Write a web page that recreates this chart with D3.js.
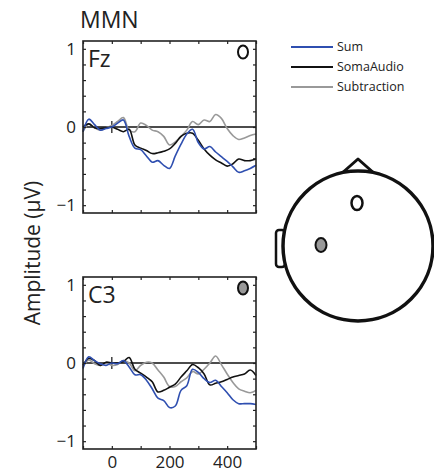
<!DOCTYPE html>
<html>
<head>
<meta charset="utf-8">
<script src="https://cdn.jsdelivr.net/npm/d3@7"></script>
<style>
  body { margin: 0; background: #fff; }
  svg { display: block; font-family: "Open Sans", "Noto Sans", sans-serif; }
</style>
</head>
<body>
<svg width="434" height="473"></svg>
<script>
// time axis (ms)
var times = [-100, -80, -60, -40, -20, 0, 20, 40, 60, 80, 100, 120, 140, 160, 180, 200,
             220, 240, 260, 280, 300, 320, 340, 360, 380, 400, 420, 440, 460, 480, 500];

// Fz amplitudes (uV)
var fzSum = [-0.06, 0.10, 0.03, -0.04, -0.02, 0.00, 0.05, 0.09, -0.12, -0.27, -0.29, -0.37, -0.45, -0.43, -0.49, -0.53,
             -0.37, -0.22, -0.09, -0.03, -0.20, -0.28, -0.25, -0.32, -0.38, -0.44, -0.51, -0.58, -0.56, -0.53, -0.49];
var fzSomaAudio = [0.00, 0.04, -0.01, -0.02, -0.01, 0.00, -0.03, -0.06, -0.03, -0.23, -0.27, -0.30, -0.34, -0.33, -0.31, -0.28,
             -0.21, -0.12, -0.08, -0.08, -0.17, -0.28, -0.36, -0.42, -0.46, -0.50, -0.47, -0.41, -0.43, -0.43, -0.41];
var fzSubtraction = [-0.06, 0.04, -0.01, -0.04, -0.01, 0.02, 0.07, 0.12, -0.04, -0.06, 0.05, 0.02, -0.04, -0.06, -0.12, -0.23,
             -0.19, -0.12, -0.04, 0.07, 0.03, 0.09, 0.07, 0.16, 0.11, -0.02, -0.11, -0.16, -0.14, -0.11, -0.09];

// C3 amplitudes (uV)
var c3Sum = [-0.07, 0.08, 0.03, -0.01, -0.03, 0.00, -0.01, 0.03, -0.05, -0.15, -0.15, -0.22, -0.33, -0.45, -0.48, -0.57,
             -0.55, -0.35, -0.29, -0.08, -0.12, -0.20, -0.25, -0.22, -0.30, -0.38, -0.47, -0.52, -0.52, -0.52, -0.53];
var c3SomaAudio = [-0.03, 0.06, 0.03, -0.03, 0.01, 0.00, 0.00, 0.02, 0.07, -0.08, -0.13, -0.18, -0.24, -0.37, -0.35, -0.31,
             -0.27, -0.18, -0.10, -0.02, -0.06, -0.14, -0.28, -0.26, -0.24, -0.21, -0.18, -0.16, -0.14, -0.09, -0.16];
var c3Subtraction = [-0.05, 0.04, -0.01, -0.03, 0.00, -0.03, -0.02, 0.03, 0.00, -0.10, -0.03, 0.01, 0.00, -0.09, -0.18, -0.30,
             -0.30, -0.24, -0.19, -0.11, -0.14, -0.08, 0.00, 0.09, -0.02, -0.14, -0.25, -0.33, -0.36, -0.38, -0.35];

var seriesNames = ["Sum", "SomaAudio", "Subtraction"];
var seriesColors = ["#2f4fb0", "#111111", "#999999"];
var xTickLabels = [0, 200, 400];
var yTickLabels = [-1, 0, 1];

var svg = d3.select("svg");

var x = d3.scaleLinear().domain([-100, 500]).range([83, 256]);

var panels = [
    { name: "Fz", top: 41, series: [fzSum, fzSomaAudio, fzSubtraction], marker: "#fff", xLabels: false },
    { name: "C3", top: 277, series: [c3Sum, c3SomaAudio, c3Subtraction], marker: "#999", xLabels: true }
];
var panelH = 172;

svg.append("text")
    .attr("x", 80).attr("y", 28)
    .attr("font-size", 23)
    .attr("fill", "#222")
    .text("MMN");

panels.forEach(function (p) {
    var y = d3.scaleLinear().domain([-1.1, 1.1]).range([p.top + panelH, p.top]);
    var g = svg.append("g");

    // zero line
    g.append("line")
        .attr("x1", x(-100)).attr("x2", x(500))
        .attr("y1", y(0)).attr("y2", y(0))
        .attr("stroke", "#111").attr("stroke-width", 1.5);
    // stimulus onset mark
    g.append("line")
        .attr("x1", x(0)).attr("x2", x(0))
        .attr("y1", y(0) - 6).attr("y2", y(0) + 6)
        .attr("stroke", "#111").attr("stroke-width", 1.2);

    var line = d3.line()
        .x(function (d, i) { return x(times[i]); })
        .y(function (d) { return y(d); })
        .curve(d3.curveCatmullRom);

    // draw gray first, then black, then blue on top
    [2, 1, 0].forEach(function (k) {
        g.append("path")
            .datum(p.series[k])
            .attr("d", line)
            .attr("fill", "none")
            .attr("stroke", seriesColors[k])
            .attr("stroke-width", 1.6);
    });

    // axes with inward ticks on all sides
    var xb = d3.axisBottom(x).tickValues(d3.range(-100, 501, 100)).tickSizeInner(-3).tickSizeOuter(0)
        .tickFormat(function (d) { return p.xLabels && xTickLabels.indexOf(d) >= 0 ? d : ""; });
    var xt = d3.axisTop(x).tickValues(d3.range(-100, 501, 100)).tickSizeInner(-3).tickSizeOuter(0).tickFormat("");
    var yl = d3.axisLeft(y).tickValues(d3.range(-1, 1.01, 0.2)).tickSizeInner(-3).tickSizeOuter(0)
        .tickFormat(function (d) {
            var r = Math.round(d * 10) / 10;
            return yTickLabels.indexOf(r) >= 0 ? (r < 0 ? "\u2212" + Math.abs(r) : r) : "";
        });
    var yr = d3.axisRight(y).tickValues(d3.range(-1, 1.01, 0.2)).tickSizeInner(-3).tickSizeOuter(0).tickFormat("");

    [
        g.append("g").attr("transform", "translate(0," + (p.top + panelH) + ")").call(xb),
        g.append("g").attr("transform", "translate(0," + p.top + ")").call(xt),
        g.append("g").attr("transform", "translate(" + x(-100) + ",0)").call(yl),
        g.append("g").attr("transform", "translate(" + x(500) + ",0)").call(yr)
    ].forEach(function (a) {
        a.select(".domain").remove();
        a.selectAll("line").attr("stroke", "#222").attr("stroke-width", 1.2);
        a.selectAll("text").attr("font-family", "Open Sans").attr("font-size", 17).attr("fill", "#222");
    });
    g.selectAll("text").filter(function () { return this.textContent === ""; }).remove();
    g.selectAll(".tick text").each(function () {
        var t = d3.select(this);
        if (t.attr("x") !== null && +t.attr("x") < 0) t.attr("x", -7);
        if (+t.attr("y") > 0) t.attr("y", 7);
    });

    g.append("rect")
        .attr("x", x(-100)).attr("y", p.top)
        .attr("width", x(500) - x(-100)).attr("height", panelH)
        .attr("fill", "none").attr("stroke", "#222").attr("stroke-width", 1.6);

    g.append("text")
        .attr("x", 88).attr("y", p.top + 26)
        .attr("font-size", 23).attr("fill", "#222")
        .text(p.name);

    g.append("ellipse")
        .attr("cx", 243).attr("cy", p.top + 11)
        .attr("rx", 5).attr("ry", 6.5)
        .attr("fill", p.marker).attr("stroke", "#111").attr("stroke-width", 2);
});

// y axis title
svg.append("text")
    .attr("transform", "translate(40,253) rotate(-90)")
    .attr("text-anchor", "middle")
    .attr("font-size", 21).attr("fill", "#222")
    .text("Amplitude (\u03bcV)");

// legend
var legend = svg.append("g");
seriesNames.forEach(function (n, i) {
    var ly = 47 + i * 20;
    legend.append("line")
        .attr("x1", 291).attr("x2", 333).attr("y1", ly).attr("y2", ly)
        .attr("stroke", seriesColors[i]).attr("stroke-width", 2);
    legend.append("text")
        .attr("x", 337).attr("y", ly + 4)
        .attr("font-size", 12.5).attr("fill", "#222")
        .text(n);
});

// head map
var head = svg.append("g");
head.append("rect")
    .attr("x", 276).attr("y", 230).attr("width", 9).attr("height", 37).attr("rx", 3)
    .attr("fill", "#fff").attr("stroke", "#111").attr("stroke-width", 2.5);
head.append("path")
    .attr("d", "M341,174 L358,159 L375,174 Z")
    .attr("fill", "#fff").attr("stroke", "#111").attr("stroke-width", 3).attr("stroke-linejoin", "round");
head.append("circle")
    .attr("cx", 358).attr("cy", 246).attr("r", 75)
    .attr("fill", "#fff").attr("stroke", "#111").attr("stroke-width", 3.5);
head.append("ellipse")
    .attr("cx", 357).attr("cy", 203).attr("rx", 5.5).attr("ry", 7)
    .attr("fill", "#fff").attr("stroke", "#111").attr("stroke-width", 2.5);
head.append("ellipse")
    .attr("cx", 321).attr("cy", 245).attr("rx", 5.5).attr("ry", 7)
    .attr("fill", "#999").attr("stroke", "#111").attr("stroke-width", 2);
</script>
</body>
</html>
